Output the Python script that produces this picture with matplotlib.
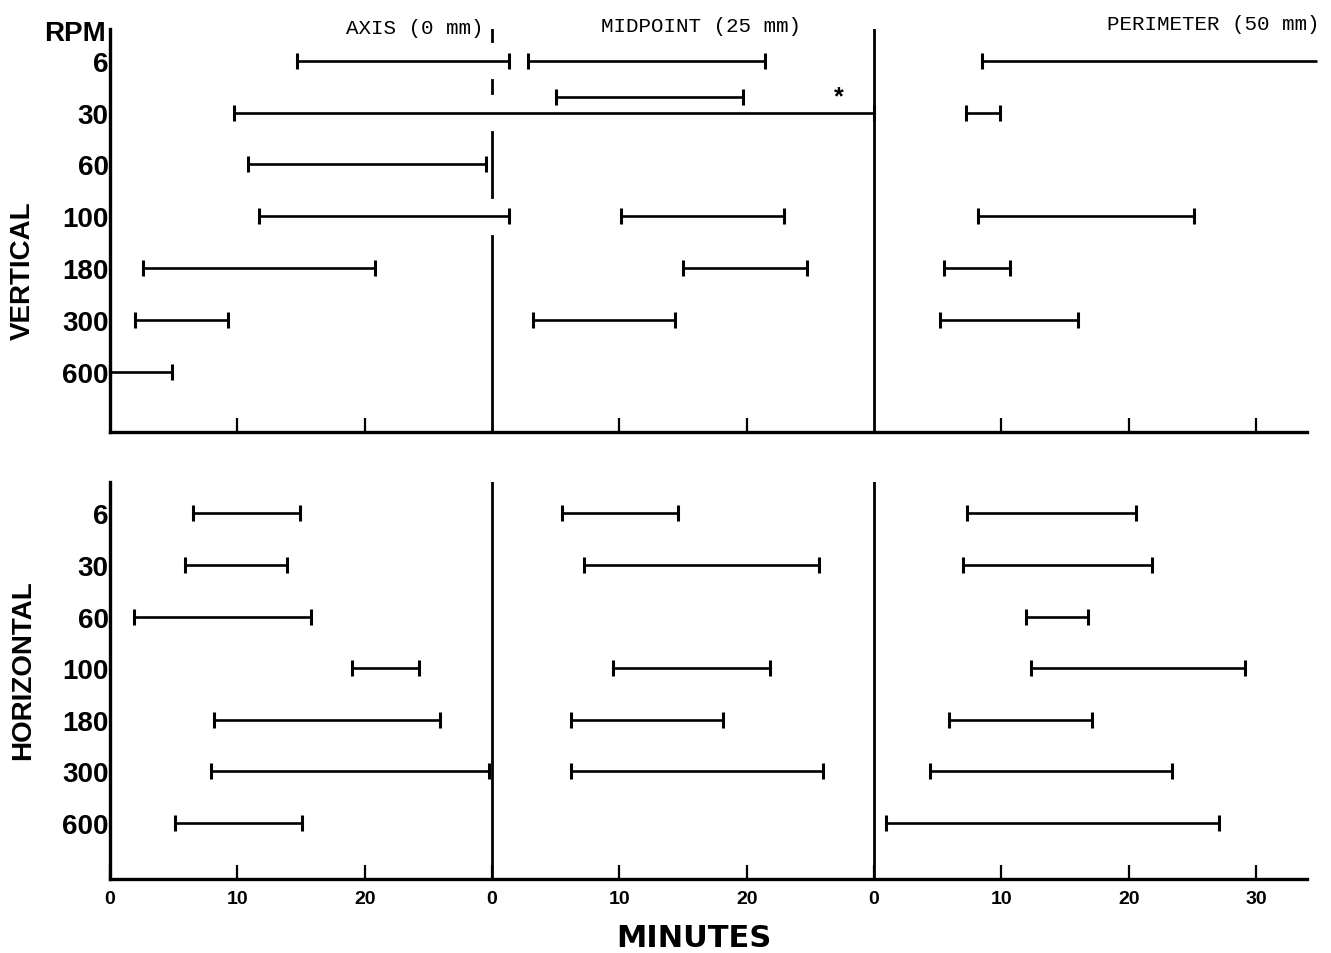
import numpy as np
import matplotlib
matplotlib.use('Agg')
import matplotlib.pyplot as plt

plt.rcParams['font.family'] = ['Liberation Sans', 'DejaVu Sans']

rpm_labels = ['6', '30', '60', '100', '180', '300', '600']
section_titles = ['AXIS (0 mm)', 'MIDPOINT (25 mm)', 'PERIMETER (50 mm)']
tick_labels = ['0', '10', '20', '0', '10', '20', '0', '10', '20', '30']

nan = np.nan
# vertical rotation, minutes (start / end of each range)
v_axis_start = [14.7, 9.7, 10.8, 11.7, 2.6, 2.0, 0.0]
v_axis_end = [31.3, 60.0, 29.5, 31.3, 20.8, 9.3, 4.9]
v_mid_start = [2.8, 5.0, nan, 10.1, 15.0, 3.2, nan]
v_mid_end = [21.4, 19.7, nan, 22.9, 24.7, 14.4, nan]
v_per_start = [8.5, 7.2, nan, 8.2, 5.5, 5.2, nan]
v_per_end = [34.8, 9.9, nan, 25.1, 10.7, 16.0, nan]

# horizontal rotation
h_axis_start = [6.5, 5.9, 1.9, 19.0, 8.2, 7.9, 5.1]
h_axis_end = [14.9, 13.9, 15.8, 24.3, 25.9, 29.8, 15.1]
h_mid_start = [5.5, 7.2, nan, 9.5, 6.2, 6.2, nan]
h_mid_end = [14.6, 25.7, nan, 21.8, 18.1, 26.0, nan]
h_per_start = [7.3, 7.0, 11.9, 12.3, 5.9, 4.4, 0.9]
h_per_end = [20.6, 21.8, 16.8, 29.1, 17.1, 23.4, 27.1]

sec_offset = [0, 30, 60]
x_max = 94

W, H = 1331, 954
fig = plt.figure(figsize=(W / 100, H / 100), dpi=100)
ax_v = fig.add_axes([110 / W, 1 - 433 / H, 1197 / W, 403 / H])
ax_h = fig.add_axes([110 / W, 1 - 880 / H, 1197 / W, 397 / H])


def draw_bars(ax, starts, ends):
    axis_end = ends[0]
    for k in range(3):
        off = sec_offset[k]
        for i in range(len(rpm_labels)):
            s, e = starts[k][i], ends[k][i]
            if np.isnan(s):
                continue
            y = i + 1
            # lift midpoint bar when the axis bar runs through it
            if k == 1 and axis_end[i] > 30 + s:
                y -= 0.3
            ax.plot([off + s, off + e], [y, y], color='k', lw=1.9,
                    solid_capstyle='butt', clip_on=False)
            ax.plot([off + s], [y], marker='|', ms=11, mew=2.2, color='k', clip_on=False)
            if off + e <= x_max:
                ax.plot([off + e], [y], marker='|', ms=11, mew=2.2, color='k', clip_on=False)


draw_bars(ax_v, [v_axis_start, v_mid_start, v_per_start], [v_axis_end, v_mid_end, v_per_end])
draw_bars(ax_h, [h_axis_start, h_mid_start, h_per_start], [h_axis_end, h_mid_end, h_per_end])

ylim_v = (8.16, 0.39)
ylim_h = (8.09, 0.39)

# top divider at 30 is broken where the axis bars cross it
cross = [i + 1 for i in range(7) if v_axis_end[i] > 30]
seg_top = ylim_v[1]
for r in cross:
    ax_v.plot([30, 30], [seg_top, r - 0.38], color='k', lw=2)
    seg_top = r + 0.38
ax_v.plot([30, 30], [seg_top, ylim_v[0]], color='k', lw=2)
ax_v.axvline(60, color='k', lw=2)
ax_h.axvline(30, color='k', lw=2)
ax_h.axvline(60, color='k', lw=2)

ax_v.text(57.2, 1.68, '*', fontsize=18, weight='bold', ha='center', va='center')

for ax, yl in [(ax_v, ylim_v), (ax_h, ylim_h)]:
    ax.set_xlim(0, x_max)
    ax.set_ylim(yl)
    ax.spines['top'].set_visible(False)
    ax.spines['right'].set_visible(False)
    ax.spines['left'].set_linewidth(2.4)
    ax.spines['bottom'].set_linewidth(2.4)
    ax.set_yticks(range(1, 8))
    ax.set_yticklabels(rpm_labels, fontsize=20, weight='bold')
    ax.tick_params(axis='y', length=0, pad=1)
    ax.tick_params(axis='x', direction='in', length=10, width=1.6, pad=8)

ax_v.set_xticks([10, 20, 40, 50, 70, 80, 90])
ax_v.set_xticklabels([])
ax_h.set_xticks(range(0, 100, 10))
ax_h.set_xticklabels(tick_labels, fontsize=14, weight='bold')

title_x = [415, 701, 1213]
title_y = [29, 26, 24]
for t, tx, ty in zip(section_titles, title_x, title_y):
    fig.text(tx / W, 1 - ty / H, t, family='Liberation Mono', fontsize=15,
             ha='center', va='center')

fig.text(106 / W, 1 - 34 / H, 'RPM', fontsize=20, weight='bold', ha='right', va='center')
fig.text(23 / W, 1 - 271 / H, 'VERTICAL', rotation=90, fontsize=20, weight='bold',
         ha='center', va='center')
fig.text(23 / W, 1 - 670 / H, 'HORIZONTAL', rotation=90, fontsize=20, weight='bold',
         ha='center', va='center')
fig.text(694 / W, 1 - 939 / H, 'MINUTES', family='DejaVu Sans', fontsize=22,
         weight='bold', ha='center', va='center')

fig.savefig('out.png', dpi=100)
